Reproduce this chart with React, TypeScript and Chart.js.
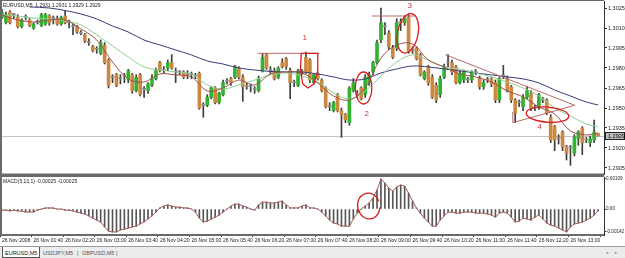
import React, { useEffect, useRef } from "react";
import { Chart, registerables } from "chart.js";
Chart.register(...registerables);

const FONT = '"Liberation Sans", Arial, sans-serif';
const N_SLOTS = 153; // 152 five-minute bars + 1 empty slot (chart shift)

const axisLabels = [
  "26 Nov 2008", "26 Nov 01:40", "26 Nov 02:20", "26 Nov 03:00", "26 Nov 03:40",
  "26 Nov 04:20", "26 Nov 05:00", "26 Nov 05:40", "26 Nov 06:20", "26 Nov 07:00",
  "26 Nov 07:40", "26 Nov 08:20", "26 Nov 09:00", "26 Nov 09:40", "26 Nov 10:20",
  "26 Nov 11:00", "26 Nov 11:40", "26 Nov 12:20", "26 Nov 13:00",
];

const openP = [
  1.3018, 1.3014, 1.3022, 1.3020, 1.3018, 1.3011, 1.3018, 1.3016, 1.3010, 1.3014,
  1.3012, 1.3013, 1.3019, 1.3017, 1.3017, 1.3013, 1.3019, 1.3014, 1.3011, 1.3011,
  1.3006, 1.3005, 1.2999, 1.2996, 1.2994, 1.2991, 1.2997, 1.2986, 1.2973, 1.2975,
  1.2972, 1.2974, 1.2971, 1.2975, 1.2963, 1.2975, 1.2964, 1.2963, 1.2967, 1.2972,
  1.2984, 1.2978, 1.2980, 1.2984, 1.2977, 1.2977, 1.2977, 1.2975, 1.2975, 1.2974,
  1.2976, 1.2952, 1.2952, 1.2958, 1.2965, 1.2954, 1.2960, 1.2970, 1.2972, 1.2973,
  1.2980, 1.2973, 1.2966, 1.2966, 1.2964, 1.2963, 1.2978, 1.2990, 1.2978, 1.2978,
  1.2973, 1.2984, 1.2987, 1.2978, 1.2969, 1.2967, 1.2977, 1.2988, 1.2986, 1.2969,
  1.2976, 1.2971, 1.2965, 1.2951, 1.2948, 1.2960, 1.2948, 1.2945, 1.2939, 1.2963,
  1.2960, 1.2965, 1.2960, 1.2969, 1.2977, 1.2984, 1.3001, 1.3011, 1.3006, 1.2995,
  1.2995, 1.3014, 1.3014, 1.3018, 1.2993, 1.2995, 1.2990, 1.2972, 1.2981, 1.2973,
  1.2967, 1.2960, 1.2973, 1.2984, 1.2984, 1.2981, 1.2969, 1.2971, 1.2971, 1.2971,
  1.2977, 1.2972, 1.2966, 1.2971, 1.2972, 1.2969, 1.2956, 1.2974, 1.2972, 1.2966,
  1.2956, 1.2954, 1.2951, 1.2958, 1.2961, 1.2950, 1.2951, 1.2956, 1.2956, 1.2943,
  1.2936, 1.2927, 1.2932, 1.2921, 1.2920, 1.2916, 1.2927, 1.2935, 1.2926, 1.2924,
  1.2926, 1.2931,
];
const highP = [
  1.3024, 1.3022, 1.3023, 1.3021, 1.3020, 1.3017, 1.3020, 1.3017, 1.3014, 1.3016,
  1.3021, 1.3021, 1.3020, 1.3019, 1.3019, 1.3019, 1.3023, 1.3016, 1.3013, 1.3012,
  1.3008, 1.3006, 1.3002, 1.2997, 1.2996, 1.3001, 1.2999, 1.2987, 1.2975, 1.2976,
  1.2975, 1.2976, 1.2979, 1.2976, 1.2975, 1.2976, 1.2966, 1.2969, 1.2975, 1.2980,
  1.2985, 1.2981, 1.2986, 1.2990, 1.2980, 1.2978, 1.2978, 1.2978, 1.2977, 1.2976,
  1.2977, 1.2954, 1.2960, 1.2966, 1.2966, 1.2962, 1.2971, 1.2972, 1.2973, 1.2982,
  1.2981, 1.2975, 1.2969, 1.2968, 1.2966, 1.2974, 1.2991, 1.2991, 1.2981, 1.2980,
  1.2981, 1.2987, 1.2988, 1.2980, 1.2971, 1.2979, 1.2979, 1.2992, 1.2987, 1.2976,
  1.2977, 1.2972, 1.2966, 1.2954, 1.2955, 1.2961, 1.2950, 1.2946, 1.2966, 1.2972,
  1.2963, 1.2966, 1.2975, 1.2977, 1.2985, 1.3001, 1.3025, 1.3014, 1.3008, 1.2997,
  1.3017, 1.3017, 1.3019, 1.3020, 1.2996, 1.2996, 1.2991, 1.2978, 1.2982, 1.2975,
  1.2969, 1.2974, 1.2983, 1.2990, 1.2986, 1.2982, 1.2978, 1.2978, 1.2973, 1.2978,
  1.2979, 1.2974, 1.2971, 1.2973, 1.2973, 1.2971, 1.2973, 1.2982, 1.2974, 1.2967,
  1.2957, 1.2956, 1.2960, 1.2966, 1.2963, 1.2952, 1.2961, 1.2958, 1.2957, 1.2945,
  1.2937, 1.2930, 1.2933, 1.2922, 1.2922, 1.2930, 1.2933, 1.2936, 1.2928, 1.2929,
  1.2941, 1.2931,
];
const lowP = [
  1.3017, 1.3013, 1.3013, 1.3017, 1.3010, 1.3010, 1.3016, 1.3011, 1.3009, 1.3013,
  1.3011, 1.3012, 1.3012, 1.3013, 1.3012, 1.3012, 1.3013, 1.3010, 1.3005, 1.3006,
  1.3005, 1.2999, 1.2997, 1.2992, 1.2991, 1.2990, 1.2983, 1.2965, 1.2969, 1.2966,
  1.2968, 1.2969, 1.2969, 1.2961, 1.2962, 1.2959, 1.2958, 1.2961, 1.2966, 1.2971,
  1.2977, 1.2976, 1.2978, 1.2979, 1.2969, 1.2975, 1.2972, 1.2972, 1.2972, 1.2972,
  1.2949, 1.2943, 1.2951, 1.2957, 1.2953, 1.2953, 1.2959, 1.2968, 1.2967, 1.2972,
  1.2972, 1.2955, 1.2964, 1.2962, 1.2961, 1.2962, 1.2977, 1.2979, 1.2976, 1.2971,
  1.2972, 1.2980, 1.2979, 1.2957, 1.2966, 1.2966, 1.2975, 1.2976, 1.2969, 1.2968,
  1.2971, 1.2962, 1.2950, 1.2948, 1.2947, 1.2947, 1.2928, 1.2939, 1.2937, 1.2962,
  1.2958, 1.2956, 1.2958, 1.2967, 1.2975, 1.2983, 1.2999, 1.3005, 1.2994, 1.2987,
  1.2993, 1.3008, 1.3012, 1.2991, 1.2991, 1.2986, 1.2974, 1.2971, 1.2967, 1.2957,
  1.2954, 1.2958, 1.2972, 1.2981, 1.2975, 1.2968, 1.2968, 1.2969, 1.2969, 1.2969,
  1.2975, 1.2964, 1.2964, 1.2969, 1.2966, 1.2954, 1.2954, 1.2972, 1.2962, 1.2954,
  1.2939, 1.2951, 1.2948, 1.2957, 1.2948, 1.2948, 1.2949, 1.2954, 1.2945, 1.2924,
  1.2918, 1.2923, 1.2918, 1.2911, 1.2907, 1.2914, 1.2922, 1.2915, 1.2924, 1.2921,
  1.2924, 1.2929,
];
const closeP = [
  1.3022, 1.3020, 1.3014, 1.3020, 1.3011, 1.3016, 1.3018, 1.3012, 1.3013, 1.3014,
  1.3020, 1.3020, 1.3014, 1.3017, 1.3013, 1.3018, 1.3014, 1.3014, 1.3011, 1.3007,
  1.3006, 1.3000, 1.2999, 1.2993, 1.2994, 1.2999, 1.2984, 1.2967, 1.2973, 1.2967,
  1.2972, 1.2974, 1.2978, 1.2963, 1.2973, 1.2960, 1.2964, 1.2968, 1.2972, 1.2978,
  1.2978, 1.2978, 1.2984, 1.2980, 1.2977, 1.2977, 1.2973, 1.2975, 1.2975, 1.2974,
  1.2950, 1.2952, 1.2958, 1.2965, 1.2954, 1.2961, 1.2969, 1.2970, 1.2969, 1.2981,
  1.2973, 1.2966, 1.2966, 1.2966, 1.2964, 1.2972, 1.2988, 1.2980, 1.2978, 1.2972,
  1.2980, 1.2981, 1.2981, 1.2969, 1.2969, 1.2978, 1.2977, 1.2977, 1.2971, 1.2975,
  1.2972, 1.2963, 1.2951, 1.2951, 1.2954, 1.2948, 1.2945, 1.2941, 1.2965, 1.2969,
  1.2960, 1.2957, 1.2973, 1.2975, 1.2984, 1.2999, 1.3014, 1.3011, 1.2996, 1.2988,
  1.3014, 1.3014, 1.3017, 1.2992, 1.2993, 1.2987, 1.2975, 1.2977, 1.2969, 1.2958,
  1.2956, 1.2972, 1.2981, 1.2984, 1.2977, 1.2969, 1.2976, 1.2977, 1.2971, 1.2977,
  1.2977, 1.2966, 1.2969, 1.2971, 1.2968, 1.2956, 1.2972, 1.2974, 1.2963, 1.2956,
  1.2946, 1.2954, 1.2958, 1.2963, 1.2950, 1.2950, 1.2960, 1.2956, 1.2946, 1.2926,
  1.2926, 1.2927, 1.2921, 1.2916, 1.2920, 1.2928, 1.2932, 1.2924, 1.2926, 1.2927,
  1.2932, 1.2929,
];

const fastMA = [
  [0, 1.30198], [4, 1.3016], [8, 1.30145], [12, 1.3016], [16, 1.3016], [20, 1.30093],
  [24, 1.3001], [28, 1.29845], [32, 1.29718], [36, 1.29695], [40, 1.29755], [44, 1.29748],
  [48, 1.29733], [52, 1.29628], [56, 1.2965], [60, 1.2971], [64, 1.29673], [68, 1.29755],
  [72, 1.2977], [76, 1.29763], [80, 1.29688], [84, 1.2959], [88, 1.2956], [92, 1.2965],
  [96, 1.29875], [100, 1.29973], [104, 1.2998], [108, 1.2986], [112, 1.29808], [116, 1.29755],
  [120, 1.29733], [124, 1.29695], [128, 1.29628], [132, 1.29583], [136, 1.29508], [140, 1.29455],
  [144, 1.29328], [148, 1.29298], [151, 1.29313],
];
const midMA = [
  [0, 1.30198], [4, 1.3019], [8, 1.30175], [12, 1.30168], [16, 1.30153], [20, 1.30123],
  [24, 1.30048], [28, 1.29965], [32, 1.29883], [36, 1.29808], [40, 1.29785], [44, 1.2977],
  [48, 1.29755], [52, 1.29673], [56, 1.29643], [60, 1.29673], [64, 1.2971], [68, 1.29748],
  [72, 1.29763], [76, 1.2974], [80, 1.29695], [84, 1.29613], [88, 1.29568], [92, 1.29628],
  [96, 1.2974], [100, 1.29845], [104, 1.29898], [108, 1.2986], [112, 1.29808], [116, 1.29793],
  [120, 1.29763], [124, 1.29733], [128, 1.29695], [132, 1.2965], [136, 1.2959], [140, 1.295],
  [144, 1.2944], [148, 1.2938], [151, 1.29358],
];
const slowMA = [
  [7, 1.30258], [12, 1.3025], [16, 1.30231], [20, 1.30205], [24, 1.30168], [28, 1.30115],
  [32, 1.3007], [36, 1.3001], [40, 1.29973], [44, 1.29935], [48, 1.29898], [52, 1.29853],
  [56, 1.2983], [60, 1.298], [64, 1.29785], [68, 1.29774], [72, 1.2977], [76, 1.2977],
  [80, 1.29755], [84, 1.29733], [88, 1.2971], [92, 1.29718], [96, 1.29763], [100, 1.29793],
  [104, 1.29815], [108, 1.29808], [112, 1.29793], [116, 1.29778], [120, 1.29763], [124, 1.29748],
  [128, 1.29733], [132, 1.29718], [136, 1.29688], [140, 1.29635], [144, 1.2959], [148, 1.29545],
  [151, 1.29523],
];

const macdHist = [
  -0.00004, -0.00004, -0.00007, -0.00004, -0.00007, -0.00007, -0.00011, -0.00011, -0.00011, -0.00004,
  0, 0.00004, 0.00004, 0.00004, 0, 0, -0.00004, -0.00004, -0.00007, -0.00011,
  -0.00015, -0.00018, -0.00025, -0.00033, -0.0004, -0.00047, -0.00065, -0.0008, -0.00083, -0.00083,
  -0.00076, -0.00073, -0.00069, -0.00065, -0.00062, -0.00054, -0.00047, -0.00036, -0.00025, -0.00011,
  0.00004, 0.00011, 0.00015, 0.00011, 0.00007, 0.00007, 0.00004, 0.00004, 0, -0.00011,
  -0.00033, -0.00047, -0.00044, -0.00036, -0.00029, -0.00022, -0.00011, 0, 0.00011, 0.00018,
  0.00018, 0.00011, 0.00007, 0, -0.00004, 0.00015, 0.00025, 0.00025, 0.00022, 0.00022,
  0.00025, 0.00029, 0.00015, 0.00004, 0.00004, 0.00004, 0.00011, 0.00015, 0.00004, 0.00004,
  0, -0.00011, -0.00025, -0.0004, -0.00051, -0.00054, -0.00062, -0.00062, -0.00062, -0.00036,
  -0.00015, 0, 0.00011, 0.00022, 0.0004, 0.00069, 0.00109, 0.00094, 0.00076, 0.00065,
  0.0008, 0.00087, 0.00083, 0.00058, 0.00029, 0.00004, -0.00015, -0.00033, -0.00047, -0.00062,
  -0.00062, -0.0004, -0.00025, -0.00011, -0.00011, -0.00015, -0.00015, -0.00011, -0.00011, -0.00011,
  -0.00015, -0.00015, -0.00015, -0.00018, -0.00022, -0.00029, -0.00015, -0.00011, -0.00015, -0.00029,
  -0.00047, -0.00044, -0.00033, -0.00036, -0.0004, -0.00029, -0.00022, -0.00036, -0.00051, -0.00058,
  -0.00062, -0.00069, -0.00076, -0.00083, -0.00065, -0.00054, -0.00051, -0.00047, -0.0004, -0.00033,
  -0.00022, -0.00007,
];

const priceTicks = [1.3025, 1.301, 1.2995, 1.298, 1.2965, 1.295, 1.2935, 1.292, 1.2905];
const macdTicks = [0.00109, 0, -0.00083];
const macdTickText = ["0.00109", "0.00", "-0.00142"];
const lastQuote = [1.2931, 1.2931, 1.2929, 1.2929];

// hand-drawn analysis marks, in bar index / price units
const levelLines = [
  [64.8, 80.3, 1.2991],
  [93.7, 104.6, 1.3019],
];
const trendLines = [
  [112.3, 1.299, 145.1, 1.2952],
  [129.4, 1.2939, 145.1, 1.2952],
  [129.4, 1.2947, 129.4, 1.2939],
];
const boxMark = [
  [75.8, 1.2991], [80.0, 1.2991], [80.0, 1.2978], [79.0, 1.2968], [77.5, 1.2965],
  [76.2, 1.2968], [75.6, 1.2978], [75.8, 1.2991],
];
const ellipseMarks = [
  [91.6, 1.2965, 2.1, 0.0012, 0],
  [102.8, 1.3006, 2.6, 0.0015, 0.2],
  [138.2, 1.2945, 5.4, 0.00057, 0.08],
];
const noteText = ["1", "2", "3", "4"];
const notePos = [
  [76.7, 1.3003],
  [92.4, 1.2946],
  [103.3, 1.3027],
  [136.2, 1.2936],
];
const macdLoop = [92.9, 0.00011, 2.8, 0.00047];

const GREEN = "#31b331";
const ORANGE = "#cd8840";
const GREY = "#8c8c8c";
const WICK = "#3c3c3c";
const RED = "#d81e1e";
const ROSE = "#b86a6a";

export default function App() {
  const mainRef = useRef<HTMLCanvasElement>(null);
  const macdRef = useRef<HTMLCanvasElement>(null);

  useEffect(() => {
    document.body.style.margin = "0";
    const labels = Array.from({ length: N_SLOTS }, (_, i) => {
      const m = 60 + i * 5;
      return String(Math.floor(m / 60)).padStart(2, "0") + ":" + String(m % 60).padStart(2, "0");
    });
    const sparse = (pairs: number[][]) => {
      const a: (number | null)[] = Array(N_SLOTS).fill(null);
      pairs.forEach(([i, v]) => (a[i] = v));
      return a;
    };
    const bodies = openP.map((o, i) => [o, closeP[i]]);
    const wicks = lowP.map((l, i) => [l, highP[i]]);
    const bodyColors = openP.map((o, i) => (closeP[i] > o ? GREEN : closeP[i] < o ? ORANGE : GREY));

    const zeroPad = (s: any) => {
      s.paddingTop = 0;
      s.paddingBottom = 0;
      s.paddingLeft = 0;
      s.paddingRight = 0;
    };

    const mainDecor = {
      id: "mainDecor",
      beforeDatasetsDraw(chart: any) {
        const { ctx, chartArea: a, scales } = chart;
        const py = Math.round(scales.y.getPixelForValue(lastQuote[3])) + 0.5;
        ctx.save();
        ctx.strokeStyle = "#c4c4c4";
        ctx.lineWidth = 1;
        ctx.beginPath();
        ctx.moveTo(a.left, py);
        ctx.lineTo(a.right, py);
        ctx.stroke();
        ctx.restore();
      },
      afterDraw(chart: any) {
        const { ctx, chartArea: a, scales } = chart;
        const x = scales.x;
        const y = scales.y;
        ctx.save();
        ctx.beginPath();
        ctx.rect(a.left, a.top, a.right - a.left, a.bottom - a.top);
        ctx.clip();
        ctx.strokeStyle = ROSE;
        ctx.lineWidth = 1;
        levelLines.forEach(([i0, i1, p]) => {
          const yy = y.getPixelForValue(p);
          ctx.beginPath();
          ctx.moveTo(x.getPixelForValue(i0), yy);
          ctx.lineTo(x.getPixelForValue(i1), yy);
          ctx.stroke();
        });
        trendLines.forEach(([i0, p0, i1, p1]) => {
          ctx.beginPath();
          ctx.moveTo(x.getPixelForValue(i0), y.getPixelForValue(p0));
          ctx.lineTo(x.getPixelForValue(i1), y.getPixelForValue(p1));
          ctx.stroke();
        });
        ctx.strokeStyle = RED;
        ctx.lineWidth = 1.3;
        ctx.lineJoin = "round";
        ctx.beginPath();
        boxMark.forEach(([i, p], k) => {
          const px = x.getPixelForValue(i);
          const pyy = y.getPixelForValue(p);
          if (k === 0) ctx.moveTo(px, pyy);
          else ctx.lineTo(px, pyy);
        });
        ctx.stroke();
        ellipseMarks.forEach(([i, p, ri, rp, rot]) => {
          const cx = x.getPixelForValue(i);
          const cy = y.getPixelForValue(p);
          const rx = Math.abs(x.getPixelForValue(i + ri) - cx);
          const ry = Math.abs(y.getPixelForValue(p + rp) - cy);
          ctx.beginPath();
          ctx.ellipse(cx, cy, rx, ry, rot, 0, Math.PI * 2);
          ctx.stroke();
        });
        ctx.fillStyle = "#c83232";
        ctx.font = "8px " + FONT;
        ctx.textAlign = "center";
        ctx.textBaseline = "middle";
        notePos.forEach(([i, p], k) => {
          ctx.fillText(noteText[k], x.getPixelForValue(i), y.getPixelForValue(p));
        });
        ctx.restore();

        ctx.save();
        ctx.fillStyle = "#222";
        ctx.font = "5px " + FONT;
        ctx.textBaseline = "top";
        ctx.fillText("EURUSD,M5  " + lastQuote.map((v) => v.toFixed(4)).join(" "), a.left + 3, a.top + 2);
        ctx.strokeStyle = "#6a6a6a";
        ctx.lineWidth = 2;
        ctx.beginPath();
        ctx.moveTo(a.left + 1, a.top);
        ctx.lineTo(a.left + 1, a.bottom + 1);
        ctx.moveTo(a.left, a.bottom + 0.5);
        ctx.lineTo(a.right, a.bottom + 0.5);
        ctx.stroke();
        ctx.lineWidth = 1;
        ctx.beginPath();
        ctx.moveTo(a.left, a.top - 0.5);
        ctx.lineTo(a.right, a.top - 0.5);
        ctx.stroke();
        const py = Math.round(y.getPixelForValue(lastQuote[3]));
        ctx.fillStyle = "#bdbdbd";
        ctx.fillRect(a.right + 1, py - 4, 20, 8);
        ctx.strokeStyle = "#222";
        ctx.strokeRect(a.right + 1.5, py - 3.5, 19, 7);
        ctx.fillStyle = "#000";
        ctx.font = "5.5px " + FONT;
        ctx.textBaseline = "middle";
        ctx.fillText(lastQuote[3].toFixed(4), a.right + 4, py + 0.5);
        ctx.restore();
      },
    };

    const macdDecor = {
      id: "macdDecor",
      afterDraw(chart: any) {
        const { ctx, chartArea: a, scales } = chart;
        const x = scales.x;
        const y = scales.y;
        ctx.save();
        ctx.fillStyle = "#222";
        ctx.font = "5px " + FONT;
        ctx.textBaseline = "top";
        ctx.fillText("MACD(5,13,1) -0.00025 -0.00025", a.left + 3, a.top + 2);
        const [i, v, ri, rv] = macdLoop;
        const cx = x.getPixelForValue(i);
        const cy = y.getPixelForValue(v);
        ctx.strokeStyle = RED;
        ctx.lineWidth = 1.3;
        ctx.beginPath();
        ctx.ellipse(cx, cy, Math.abs(x.getPixelForValue(i + ri) - cx), Math.abs(y.getPixelForValue(v + rv) - cy), -0.2, 0.3, Math.PI * 2 - 0.2);
        ctx.stroke();
        ctx.strokeStyle = "#6a6a6a";
        ctx.lineWidth = 2;
        ctx.beginPath();
        ctx.moveTo(a.left, a.top - 1);
        ctx.lineTo(a.right, a.top - 1);
        ctx.moveTo(a.left + 1, a.top - 1);
        ctx.lineTo(a.left + 1, a.bottom);
        ctx.moveTo(a.left, a.bottom);
        ctx.lineTo(a.right, a.bottom);
        ctx.stroke();
        ctx.restore();
      },
    };

    const main = new Chart(mainRef.current as HTMLCanvasElement, {
      type: "bar",
      data: {
        labels,
        datasets: [
          { type: "line", data: sparse(fastMA), borderColor: "#a0504c", borderWidth: 1, pointRadius: 0, spanGaps: true, tension: 0.35, order: 0 } as any,
          { type: "line", data: sparse(midMA), borderColor: "#8fcf8f", borderWidth: 1, pointRadius: 0, spanGaps: true, tension: 0.35, order: 0 } as any,
          { type: "line", data: sparse(slowMA), borderColor: "#3a3a7a", borderWidth: 1, pointRadius: 0, spanGaps: true, tension: 0.35, order: 0 } as any,
          { type: "bar", data: bodies, backgroundColor: bodyColors, barThickness: 3, grouped: false, minBarLength: 1, order: 1 } as any,
          { type: "bar", data: wicks, backgroundColor: WICK, barThickness: 1, grouped: false, order: 2 } as any,
        ],
      },
      options: {
        animation: false,
        responsive: false,
        events: [],
        layout: { padding: { top: 1, bottom: 1, left: 0, right: 0 } },
        plugins: { legend: { display: false }, tooltip: { enabled: false } },
        scales: {
          x: { type: "category", offset: true, display: false },
          y: {
            position: "right",
            min: 1.29005,
            max: 1.303025,
            afterBuildTicks: (s: any) => {
              s.ticks = priceTicks.map((v) => ({ value: v }));
            },
            afterFit: (s: any) => {
              s.width = 21;
              zeroPad(s);
            },
            ticks: { font: { family: FONT, size: 5.5 }, color: "#222", padding: 1, callback: (v: any) => Number(v).toFixed(4) },
            grid: { drawOnChartArea: false, tickLength: 3, color: "#333" },
            border: { display: true, color: "#333", width: 1 },
          },
        },
      } as any,
      plugins: [mainDecor],
    });

    const macd = new Chart(macdRef.current as HTMLCanvasElement, {
      type: "bar",
      data: {
        labels,
        datasets: [
          { type: "line", data: macdHist, borderColor: "#a65a55", borderWidth: 1, pointRadius: 0, tension: 0, order: 0 } as any,
          { type: "bar", data: macdHist, backgroundColor: "#555555", barThickness: 1, grouped: false, order: 1 } as any,
        ],
      },
      options: {
        animation: false,
        responsive: false,
        events: [],
        layout: { padding: { top: 2, bottom: 0, left: 0, right: 0 } },
        plugins: { legend: { display: false }, tooltip: { enabled: false } },
        scales: {
          x: {
            type: "category",
            offset: true,
            afterFit: (s: any) => {
              s.height = 11;
              zeroPad(s);
            },
            ticks: {
              autoSkip: false,
              maxRotation: 0,
              minRotation: 0,
              align: "start",
              padding: 1,
              font: { family: FONT, size: 5 },
              color: "#222",
              callback: (_v: any, idx: number) => (idx % 8 === 0 && axisLabels[idx / 8] ? axisLabels[idx / 8] : ""),
            },
            grid: {
              drawOnChartArea: false,
              tickLength: 2,
              color: (c: any) => (c.index % 8 === 0 ? "#333" : "rgba(0,0,0,0)"),
            },
            border: { display: false },
          },
          y: {
            position: "right",
            min: -0.00094,
            max: 0.00116,
            afterBuildTicks: (s: any) => {
              s.ticks = macdTicks.map((v) => ({ value: v }));
            },
            afterFit: (s: any) => {
              s.width = 21;
              zeroPad(s);
            },
            ticks: {
              font: { family: FONT, size: 4.6 },
              color: "#222",
              padding: 0,
              callback: (v: any) => {
                const k = macdTicks.indexOf(Number(v));
                return k >= 0 ? macdTickText[k] : "";
              },
            },
            grid: { drawOnChartArea: false, tickLength: 2, color: "#333" },
            border: { display: true, color: "#333", width: 1 },
          },
        },
      } as any,
      plugins: [macdDecor],
    });

    return () => {
      main.destroy();
      macd.destroy();
    };
  }, []);

  const tabText: React.CSSProperties = { position: "absolute", top: 3, fontSize: 5.5, fontFamily: FONT, lineHeight: "6px", color: "#555" };

  return (
    <div style={{ position: "relative", width: 625, height: 258, background: "#fff", overflow: "hidden" }}>
      <canvas ref={mainRef} width={625} height={175} style={{ position: "absolute", left: 0, top: 0, display: "block" }} />
      <canvas ref={macdRef} width={625} height={71} style={{ position: "absolute", left: 0, top: 175, display: "block" }} />
      <div style={{ position: "absolute", left: 0, top: 246, width: 625, height: 12, background: "#ececec", borderTop: "1px solid #9a9a9a" }}>
        <div style={{ position: "absolute", left: 2, top: 0, width: 36, height: 10, background: "#fff", border: "1px solid #555", borderTop: "none" }} />
        <span style={{ ...tabText, left: 5, color: "#111" }}>EURUSD,M5</span>
        <span style={{ ...tabText, left: 43 }}>USDJPY,M5</span>
        <span style={{ ...tabText, left: 77 }}>|</span>
        <span style={{ ...tabText, left: 82 }}>GBPUSD,M5</span>
        <span style={{ ...tabText, left: 116 }}>|</span>
        <span style={{ ...tabText, left: 606, fontSize: 4, color: "#777" }}>◂</span>
        <span style={{ ...tabText, left: 615, fontSize: 4, color: "#777" }}>▸</span>
      </div>
    </div>
  );
}
